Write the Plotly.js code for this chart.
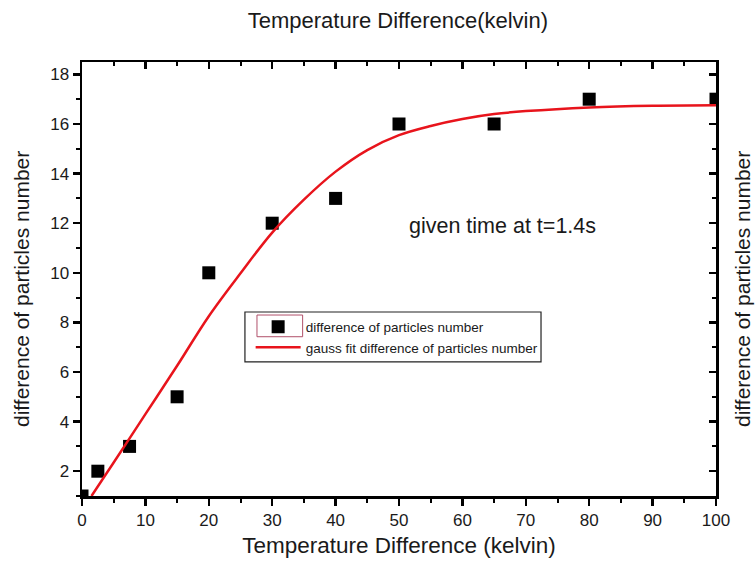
<!DOCTYPE html>
<html>
<head>
<meta charset="utf-8">
<script src="https://cdn.plot.ly/plotly-3.0.1.min.js"></script>
<style>html,body{margin:0;padding:0;background:#fff;}#chart{width:755px;height:561px;}</style>
</head>
<body>
<div id="chart"></div>
<script>
// Measured data points
const tempDiff = [0, 2.5, 7.5, 15, 20, 30, 40, 50, 65, 80, 100];
const particleDiff = [1, 2, 3, 5, 10, 12, 13, 16, 16, 17, 17];

// Gauss fit curve
const fitX = [1.5, 5, 10, 15, 20, 25, 30, 35, 40, 45, 50, 55, 60, 65, 70, 80, 90, 100];
const fitY = [1.0, 2.35, 4.3, 6.25, 8.25, 9.98, 11.62, 12.95, 14.08, 14.95, 15.55, 15.92, 16.2, 16.4, 16.52, 16.67, 16.74, 16.76];

const yTitle = "difference of particles number";

const FONT = "Liberation Sans, Arial, sans-serif";
const INK = "#1a1a1a";

const traces = [
  {
    x: tempDiff, y: particleDiff, type: "scatter", mode: "markers",
    name: "difference of particles number",
    marker: {symbol: "square", size: 13, color: "#000"},
    cliponaxis: true
  },
  {
    x: fitX, y: fitY, type: "scatter", mode: "lines",
    name: "gauss fit difference of particles number",
    line: {color: "#e8141c", width: 2.5, shape: "spline", smoothing: 1}
  },
  {x: [], y: [], xaxis: "x2", yaxis: "y2", showlegend: false, hoverinfo: "skip"}
];

const layout = {
  width: 755, height: 561,
  margin: {l: 82, r: 39, t: 62, b: 65},
  paper_bgcolor: "#fff", plot_bgcolor: "#fff",
  font: {family: FONT, color: INK, size: 15},
  title: {text: "Temperature Difference(kelvin)", x: 0.527, xanchor: "center", y: 0.963, yanchor: "middle",
          font: {family: FONT, size: 22, color: INK}},
  showlegend: true,
  legend: {x: 0.266, xanchor: "left", y: 0.425, yanchor: "top",
           bgcolor: "rgba(255,255,255,0)", borderwidth: 0,
           font: {family: FONT, size: 13.5, color: INK}, itemwidth: 45, tracegroupgap: 0},
  xaxis: {
    range: [0, 100], tick0: 0, dtick: 10,
    ticks: "outside", ticklen: 7, tickwidth: 2.5, tickcolor: "#000",
    minor: {dtick: 5, tick0: 0, ticks: "outside", ticklen: 4, tickwidth: 2, tickcolor: "#000"},
    showline: true, linewidth: 2.5, linecolor: "#000", showgrid: false, zeroline: false,
    tickfont: {family: FONT, size: 17, color: INK},
    title: {text: "Temperature Difference (kelvin)", standoff: 9, font: {family: FONT, size: 22.5, color: INK}}
  },
  yaxis: {
    range: [1, 18.5], tick0: 2, dtick: 2,
    ticks: "outside", ticklen: 7, tickwidth: 2.5, tickcolor: "#000",
    minor: {dtick: 1, tick0: 1, ticks: "outside", ticklen: 4, tickwidth: 2, tickcolor: "#000"},
    showline: true, linewidth: 2.5, linecolor: "#000", showgrid: false, zeroline: false,
    tickfont: {family: FONT, size: 17, color: INK}
  },
  xaxis2: {
    overlaying: "x", side: "top", range: [0, 100], tick0: 0, dtick: 10,
    showticklabels: false, ticks: "inside", ticklen: 7, tickwidth: 2.5, tickcolor: "#000",
    minor: {dtick: 5, tick0: 0, ticks: "inside", ticklen: 4, tickwidth: 2, tickcolor: "#000"},
    showline: true, linewidth: 2.5, linecolor: "#000", showgrid: false, zeroline: false
  },
  yaxis2: {
    overlaying: "y", side: "right", range: [1, 18.5], tick0: 2, dtick: 2,
    showticklabels: false, ticks: "inside", ticklen: 7, tickwidth: 2.5, tickcolor: "#000",
    minor: {dtick: 1, tick0: 1, ticks: "inside", ticklen: 4, tickwidth: 2, tickcolor: "#000"},
    showline: true, linewidth: 2.5, linecolor: "#000", showgrid: false, zeroline: false
  },
  annotations: [
    {x: 66.3, y: 11.9, xref: "x", yref: "y", text: "given time at t=1.4s", showarrow: false,
     font: {family: FONT, size: 21.5, color: INK}},
    {x: -0.0946, y: 0.477, xref: "paper", yref: "paper", text: yTitle, textangle: -90, showarrow: false,
     xanchor: "center", yanchor: "middle", font: {family: FONT, size: 21, color: INK}},
    {x: 1.0426, y: 0.477, xref: "paper", yref: "paper", text: yTitle, textangle: -90, showarrow: false,
     xanchor: "center", yanchor: "middle", font: {family: FONT, size: 21, color: INK}}
  ],
  shapes: [
    {type: "rect", xref: "paper", yref: "paper", x0: 0.257, x1: 0.724, y0: 0.309, y1: 0.424,
     line: {color: "#222", width: 1.2}, fillcolor: "rgba(0,0,0,0)", layer: "above"},
    {type: "rect", xref: "paper", yref: "paper", x0: 0.276, x1: 0.348, y0: 0.367, y1: 0.417,
     line: {color: "#b0506a", width: 1}, fillcolor: "rgba(0,0,0,0)", layer: "above"}
  ]
};

Plotly.newPlot("chart", traces, layout, {displayModeBar: false, staticPlot: true});
</script>
</body>
</html>
